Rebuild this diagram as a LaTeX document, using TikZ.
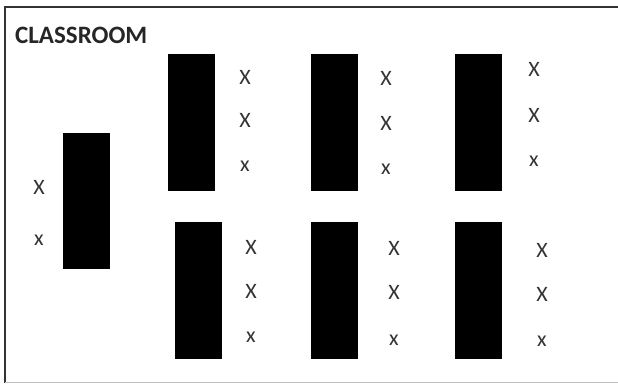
\documentclass[tikz,border=0pt]{standalone}
\usepackage{fontspec}
\setmainfont{Carlito}

\begin{document}
\begin{tikzpicture}[x=1pt, y=-1pt,
        desk/.style={rectangle, fill=black, inner sep=0pt, minimum width=47pt, minimum height=137pt, anchor=north west},
        seat/.style={inner sep=0pt, text=black!80, font=\fontsize{22}{22}\selectfont},
        title/.style={inner sep=0pt, anchor=base west, text=black!85, font=\fontsize{25}{25}\selectfont\bfseries}]

        \useasboundingbox (0,0) rectangle (618,383);

        % room walls
        \draw[line width=2pt, black!80] (619,7) -- (5,7) -- (5,383);
        \draw[gray!50] (5,382) -- (619,382);

        \node [title] (room) at (15,43) {CLASSROOM};

        % teacher desk
        \node [desk, minimum height=136pt] (front) at (63,133) {};
        \node [seat] (front1) at (39,187) {X};
        \node [seat] (front2) at (39,240) {x};

        % top row
        \node [desk] (deskA) at (168,54) {};
        \node [seat] (a1) at (245,77) {X};
        \node [seat] (a2) at (245,120) {X};
        \node [seat] (a3) at (245,166) {x};

        \node [desk] (deskB) at (311,54) {};
        \node [seat] (b1) at (386,78) {X};
        \node [seat] (b2) at (386,123) {X};
        \node [seat] (b3) at (386,169) {x};

        \node [desk] (deskC) at (455,54) {};
        \node [seat] (c1) at (534,69) {X};
        \node [seat] (c2) at (534,115) {X};
        \node [seat] (c3) at (534,161) {x};

        % bottom row
        \node [desk] (deskD) at (175,222) {};
        \node [seat] (d1) at (251,247) {X};
        \node [seat] (d2) at (251,291) {X};
        \node [seat] (d3) at (251,337) {x};

        \node [desk] (deskE) at (311,222) {};
        \node [seat] (e1) at (394,248) {X};
        \node [seat] (e2) at (394,292) {X};
        \node [seat] (e3) at (394,340) {x};

        \node [desk] (deskF) at (455,222) {};
        \node [seat] (f1) at (542,250) {X};
        \node [seat] (f2) at (542,294) {X};
        \node [seat] (f3) at (542,341) {x};
    \end{tikzpicture}
\end{document}
